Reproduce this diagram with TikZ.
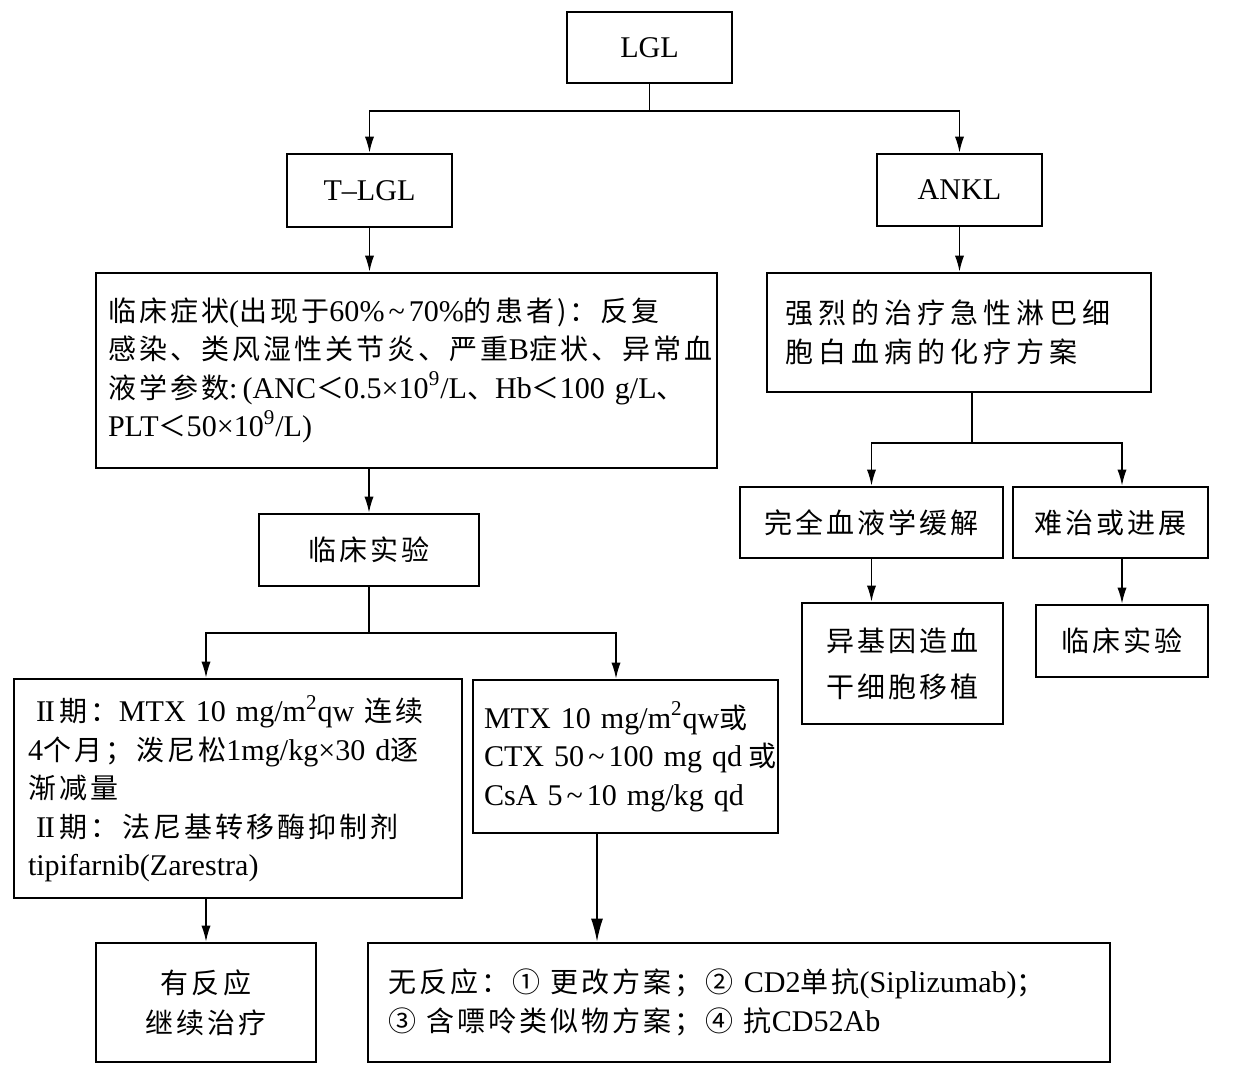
\documentclass[tikz,border=0pt]{standalone}
\usepackage{fontspec}
\setmainfont{Liberation Serif}[Scale=0.94]
\newfontfamily\cjk[Scale=0.875,LetterSpace=11]{Noto Sans CJK SC}
\newfontfamily\cjkwide[Scale=0.875,LetterSpace=18]{Noto Sans CJK SC}
\newcommand{\zh}[1]{{\cjk #1}}
\newcommand{\rng}{\kern2pt\symbol{"7E}\kern2pt}
\newcommand{\rmII}{I\kern-0.6pt I}
\usetikzlibrary{arrows.meta}

\begin{document}
\begin{tikzpicture}[x=0.5pt, y=-0.5pt,
  font=\fontsize{16pt}{19.25pt}\selectfont,
  box/.style={draw, line width=1.4pt, inner sep=0pt, align=center},
  lbox/.style={draw, line width=1.4pt, inner ysep=0pt, align=left},
  conn/.style={line width=0.7pt},
  arr/.style={line width=0.7pt, -{Latex[length=8pt,width=4.6pt]}},
  bigarr/.style={line width=0.7pt, -{Latex[length=11.5pt,width=6pt]}}]
  \useasboundingbox (0,0) rectangle (1246,1077);
  \node[box, minimum width=82.5pt, minimum height=35.5pt] (lgl) at (649.5,47.5) {LGL};
  \node[box, minimum width=82.5pt, minimum height=36.5pt] (tlgl) at (369.5,190.5) {T–LGL};
  \node[box, minimum width=82.5pt, minimum height=36pt] (ankl) at (959.5,190) {ANKL};
  \node[lbox, inner xsep=6pt, text width=298.5pt, minimum height=97.5pt] (sym) at (406.5,370.5)
    {\zh{临床症状}(\zh{出现于}60\%\rng70\%\zh{的患者)：反复}\\
     \zh{感染、类风湿性关节炎、严重}B\zh{症状、异常血}\\
     \zh{液学参数}:\,(ANC\zh{＜}0.5×10\textsuperscript{9}/L\zh{、}Hb\zh{＜}100~g/L\zh{、}\\
     PLT\zh{＜}50×10\textsuperscript{9}/L)};
  \node[box, minimum width=110pt, minimum height=36pt] (trialL) at (369,550) {\zh{临床实验}};
  \node[lbox, inner xsep=7pt, text width=210pt, minimum height=109.5pt] (phase) at (238,788.5)
    {\hspace{4pt}\rmII\,\zh{期：}MTX~10~mg/m\textsuperscript{2}qw \zh{连续}\\
     4\zh{个月；泼尼松}1mg/kg×30~d\zh{逐}\\
     \zh{渐减量}\\
     \hspace{4pt}\rmII\,\zh{期：法尼基转移酶抑制剂}\\
     tipifarnib(Zarestra)};
  \node[lbox, inner xsep=5.5pt, text width=141.5pt, minimum height=76.5pt] (mtx) at (625.5,756.5)
    {MTX~10~mg/m\textsuperscript{2}qw\zh{或}\\
     CTX~50\rng100~mg~qd\kern3pt\zh{或}\\
     CsA~5\rng10~mg/kg~qd};
  \node[box, minimum width=110pt, minimum height=59.5pt, font=\fontsize{16pt}{20pt}\selectfont] (resp) at (206,1002.5)
    {\zh{有反应}\\\zh{继续治疗}};
  \node[lbox, inner xsep=10pt, text width=351pt, minimum height=59.5pt] (nores) at (739,1002.5)
    {\zh{无反应：①~更改方案；②~}CD2\zh{单抗}(Siplizumab)\zh{；}\\
     \zh{③~含嘌呤类似物方案；④~抗}CD52Ab};
  \node[lbox, inner xsep=9pt, text width=174pt, minimum height=59.5pt] (chemo) at (959,332.5)
    {{\cjkwide 强烈的治疗急性淋巴细}\\{\cjkwide 胞白血病的化疗方案}};
  \node[box, minimum width=131.5pt, minimum height=35.5pt] (cr) at (871.5,522.5) {\zh{完全血液学缓解}};
  \node[box, minimum width=97.5pt, minimum height=35.5pt] (refr) at (1110.5,522.5) {\zh{难治或进展}};
  \node[box, minimum width=100.5pt, minimum height=60.5pt, font=\fontsize{16pt}{23pt}\selectfont] (sct) at (902.5,663.5)
    {\zh{异基因造血}\\\zh{干细胞移植}};
  \node[box, minimum width=86pt, minimum height=36pt] (trialR) at (1122,641) {\zh{临床实验}};
  \coordinate (splitT) at (649.5,111);
  \coordinate (splitL) at (369,633);
  \coordinate (mtxin) at (616,633);
  \coordinate (mtxout) at (597,833);
  \coordinate (splitR) at (972,443);
  \draw[conn] (lgl.south) -- (splitT);
  \draw[arr] (splitT) -| (tlgl.north);
  \draw[arr] (splitT) -| (ankl.north);
  \draw[arr] (tlgl.south) -- (tlgl.south |- sym.north);
  \draw[arr] (trialL.north |- sym.south) -- (trialL.north);
  \draw[conn] (trialL.south) -- (splitL);
  \draw[arr] (splitL) -| (phase.north -| resp.north);
  \draw[arr] (splitL) -- (mtxin) -- (mtxin |- mtx.north);
  \draw[arr] (resp.north |- phase.south) -- (resp.north);
  \draw[bigarr] (mtxout |- mtx.south) -- (mtxout |- nores.north);
  \draw[arr] (ankl.south) -- (ankl.south |- chemo.north);
  \draw[conn] (splitR |- chemo.south) -- (splitR);
  \draw[arr] (splitR) -| (cr.north);
  \draw[arr] (splitR) -| (refr.north -| trialR.north);
  \draw[arr] (cr.south) -- (cr.south |- sct.north);
  \draw[arr] (trialR.north |- refr.south) -- (trialR.north);
\end{tikzpicture}
\end{document}
